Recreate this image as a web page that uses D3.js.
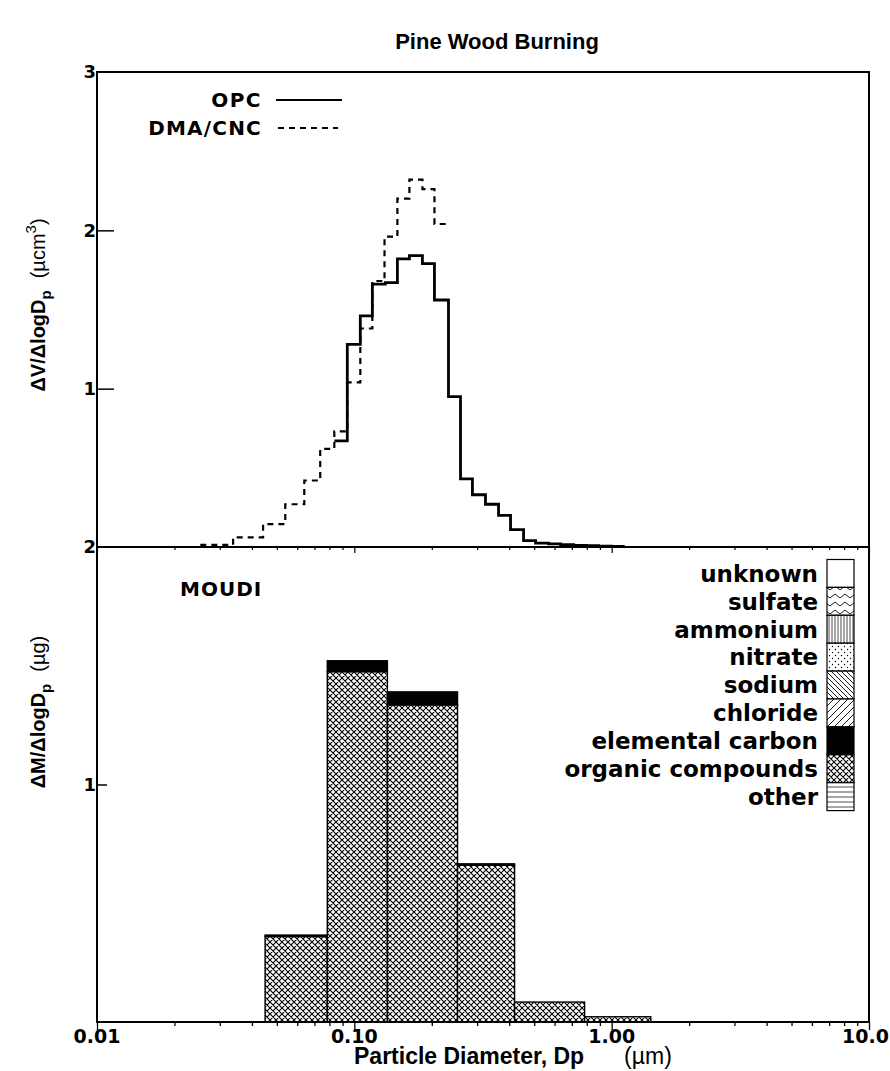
<!DOCTYPE html>
<html>
<head>
<meta charset="utf-8">
<script src="https://cdn.jsdelivr.net/npm/d3@7"></script>
<style>
  body { margin: 0; background: #fff; }
  svg text { font-family: "Liberation Sans", Arial, sans-serif; font-weight: bold; fill: #000; }
  svg text.wide { font-family: "DejaVu Sans", sans-serif; }
</style>
</head>
<body>
<svg id="chart"></svg>
<script>
/* DATA */
// OPC volume distribution, bin edges (µm) and values (µm3)
const opcEdges = [0.0836, 0.0939, 0.1055, 0.1175, 0.132, 0.147, 0.1637, 0.1839, 0.2048, 0.2322,
  0.2586, 0.2877, 0.3233, 0.3634, 0.4046, 0.4546, 0.5062, 0.5687, 0.6333, 0.7115, 0.7991, 0.8901, 1.0, 1.1236];
const opcValues = [0.67, 1.28, 1.46, 1.66, 1.67, 1.82, 1.84, 1.79, 1.56, 0.95,
  0.43, 0.33, 0.27, 0.20, 0.11, 0.04, 0.025, 0.02, 0.015, 0.01, 0.008, 0.006, 0.004];

// DMA/CNC volume distribution
const dmaEdges = [0.0252, 0.0338, 0.0442, 0.0539, 0.0639, 0.0737, 0.0836, 0.0939, 0.1055, 0.1175,
  0.131, 0.147, 0.1637, 0.1839, 0.2048, 0.2322];
const dmaValues = [0.013, 0.061, 0.145, 0.27, 0.42, 0.62, 0.73, 1.04, 1.38, 1.68, 1.96, 2.20, 2.32, 2.26, 2.04];

// MOUDI stages, edges (µm) and mass by component (µg)
const moudiEdges = [0.045, 0.0785, 0.1344, 0.2518, 0.4195, 0.785, 1.419];
const organic = [0.36, 1.475, 1.335, 0.66, 0.084, 0.022];
const elemental = [0.006, 0.046, 0.055, 0.006, 0, 0];

const legendLabels = ["unknown", "sulfate", "ammonium", "nitrate", "sodium", "chloride",
  "elemental carbon", "organic compounds", "other"];
const xTickValues = [0.01, 0.1, 1, 10];
const xTickLabels = ["0.01", "0.10", "1.00", "10.0"];

/* LAYOUT */
const width = 890, height = 1071;
const plotLeft = 97, plotRight = 869, plotTop = 72, plotMid = 547, plotBottom = 1022;

const svg = d3.select("#chart").attr("width", width).attr("height", height);

/* PATTERNS */
const defs = svg.append("defs");
function pat(id, w, h, draw) {
  const p = defs.append("pattern").attr("id", id).attr("patternUnits", "userSpaceOnUse")
    .attr("width", w).attr("height", h);
  p.append("rect").attr("width", w).attr("height", h).attr("fill", "#fff");
  draw(p);
}
pat("cross", 6, 6, p => {
  p.append("path").attr("d", "M0,0L6,6M6,0L0,6M-1,5L1,7M5,-1L7,1M-1,1L1,-1M5,7L7,5")
    .attr("stroke", "#000").attr("stroke-width", 1.1);
});
pat("zigzag", 10, 8, p => {
  p.append("path").attr("d", "M0,6L5,2L10,6").attr("fill", "none").attr("stroke", "#000").attr("stroke-width", 0.9);
});
pat("vert", 3, 4, p => {
  p.append("path").attr("d", "M1,0V4").attr("stroke", "#000").attr("stroke-width", 0.7);
});
pat("dots", 6, 6, p => {
  p.append("circle").attr("cx", 1.5).attr("cy", 1.5).attr("r", 0.7).attr("fill", "#000");
  p.append("circle").attr("cx", 4.5).attr("cy", 4.5).attr("r", 0.7).attr("fill", "#000");
});
pat("back", 5, 5, p => {
  p.append("path").attr("d", "M0,0L5,5M-1,4L1,6M4,-1L6,1").attr("stroke", "#000").attr("stroke-width", 0.9);
});
pat("fwd", 7, 7, p => {
  p.append("path").attr("d", "M0,7L7,0M-1,1L1,-1M6,8L8,6").attr("stroke", "#000").attr("stroke-width", 0.9);
});
pat("horiz", 4, 5, p => {
  p.append("path").attr("d", "M0,2H4").attr("stroke", "#000").attr("stroke-width", 0.7);
});
const legendFills = ["#fff", "url(#zigzag)", "url(#vert)", "url(#dots)", "url(#back)",
  "url(#fwd)", "#000", "url(#cross)", "url(#horiz)"];

/* SCALES */
const x = d3.scaleLog().domain([0.01, 10]).range([plotLeft, plotRight]);
const yTop = d3.scaleLinear().domain([0, 3]).range([plotMid, plotTop]);
const yBot = d3.scaleLinear().domain([0, 2]).range([plotBottom, plotMid]);

/* TITLE */
svg.append("text").attr("x", 497).attr("y", 49).attr("text-anchor", "middle")
  .style("font-size", "22px").text("Pine Wood Burning");

/* BOTTOM PANEL BARS */
const bars = svg.append("g");
organic.forEach((v, i) => {
  const x0 = x(moudiEdges[i]), x1 = x(moudiEdges[i + 1]);
  bars.append("rect").attr("x", x0).attr("width", x1 - x0)
    .attr("y", yBot(v)).attr("height", yBot(0) - yBot(v))
    .attr("fill", "url(#cross)").attr("stroke", "#000").attr("stroke-width", 1.4);
  if (elemental[i] > 0) {
    bars.append("rect").attr("x", x0).attr("width", x1 - x0)
      .attr("y", yBot(v + elemental[i])).attr("height", yBot(v) - yBot(v + elemental[i]))
      .attr("fill", "#000").attr("stroke", "#000").attr("stroke-width", 1.4);
  }
});

/* TOP PANEL STEP LINES */
const stepLine = d3.line().x(d => x(d[0])).y(d => yTop(d[1])).curve(d3.curveStepAfter);
function stepPoints(edges, vals) {
  const pts = vals.map((v, i) => [edges[i], v]);
  pts.push([edges[edges.length - 1], vals[vals.length - 1]]);
  return pts;
}
svg.append("path").attr("d", stepLine(stepPoints(dmaEdges, dmaValues)))
  .attr("fill", "none").attr("stroke", "#000").attr("stroke-width", 2.2).attr("stroke-dasharray", "6,5");
svg.append("path").attr("d", stepLine(stepPoints(opcEdges, opcValues)))
  .attr("fill", "none").attr("stroke", "#000").attr("stroke-width", 2.8);

/* AXES */
const minorTicks = [];
[0.01, 0.1, 1].forEach(d => { for (let k = 1; k <= 9; k++) minorTicks.push(d * k); });
minorTicks.push(10);

// bottom x axis
const xAxis = d3.axisBottom(x).tickValues(minorTicks).tickSize(4).tickFormat("");
const gx = svg.append("g").attr("transform", `translate(0,${plotBottom})`).call(xAxis);
gx.select(".domain").remove();
gx.selectAll("line").attr("stroke-width", 1.3);
gx.selectAll(".tick").filter(d => xTickValues.includes(d)).select("line").attr("y2", 8);
xTickValues.forEach((d, i) => {
  const last = i === xTickValues.length - 1;
  svg.append("text").attr("class", "wide").attr("x", last ? 889 : x(d)).attr("y", plotBottom + 21)
    .attr("text-anchor", last ? "end" : "middle").style("font-size", "19px").text(xTickLabels[i]);
});

// ticks along the middle line
const gm = svg.append("g").attr("transform", `translate(0,${plotMid})`)
  .call(d3.axisBottom(x).tickValues(minorTicks).tickSize(3).tickFormat(""));
gm.select(".domain").remove();
gm.selectAll("line").attr("stroke-width", 1.2);
gm.selectAll(".tick").filter(d => xTickValues.includes(d)).select("line").attr("y2", 6);

// y axes (ticks inside)
const gyTop = svg.append("g").attr("transform", `translate(${plotLeft},0)`)
  .call(d3.axisRight(yTop).tickValues([1, 2]).tickSize(17).tickFormat(""));
gyTop.select(".domain").remove();
gyTop.selectAll("line").attr("stroke-width", 1.5);
const gyBot = svg.append("g").attr("transform", `translate(${plotLeft},0)`)
  .call(d3.axisRight(yBot).tickValues([1]).tickSize(10).tickFormat(""));
gyBot.select(".domain").remove();
gyBot.selectAll("line").attr("stroke-width", 1.5);

[[yTop(3), "3"], [yTop(2), "2"], [yTop(1), "1"], [yBot(2), "2"], [yBot(1), "1"]].forEach(([yy, t]) => {
  svg.append("text").attr("class", "wide").attr("x", plotLeft - 1).attr("y", yy).attr("dy", "0.36em")
    .attr("text-anchor", "end").style("font-size", "18px").text(t);
});

// frame
svg.append("rect").attr("x", plotLeft).attr("y", plotTop)
  .attr("width", plotRight - plotLeft).attr("height", plotBottom - plotTop)
  .attr("fill", "none").attr("stroke", "#000").attr("stroke-width", 2);
svg.append("line").attr("x1", plotLeft).attr("x2", plotRight).attr("y1", plotMid).attr("y2", plotMid)
  .attr("stroke", "#000").attr("stroke-width", 2);

/* AXIS TITLES */
const xt = svg.append("text").attr("x", 354).attr("y", 1064).style("font-size", "23px");
xt.append("tspan").text("Particle Diameter, Dp");
xt.append("tspan").attr("dx", 40).style("font-weight", "normal").style("font-size", "23px").text("(µm)");

const yt1 = svg.append("text").attr("transform", "translate(45,305) rotate(-90)")
  .attr("text-anchor", "middle").style("font-size", "20px");
yt1.append("tspan").text("ΔV/ΔlogD");
yt1.append("tspan").attr("dy", 6).style("font-size", "15px").text("p");
yt1.append("tspan").attr("dy", -6).attr("dx", 12).style("font-weight", "normal").text("(µcm");
yt1.append("tspan").attr("dy", -9).style("font-size", "15px").style("font-weight", "normal").text("3");
yt1.append("tspan").attr("dy", 9).style("font-weight", "normal").text(")");

const yt2 = svg.append("text").attr("transform", "translate(45,712) rotate(-90)")
  .attr("text-anchor", "middle").style("font-size", "20px");
yt2.append("tspan").text("ΔM/ΔlogD");
yt2.append("tspan").attr("dy", 6).style("font-size", "15px").text("p");
yt2.append("tspan").attr("dy", -6).attr("dx", 12).style("font-weight", "normal").text("(µg)");

/* TOP LEGEND */
svg.append("text").attr("class", "wide").attr("x", 262).attr("y", 107).attr("text-anchor", "end")
  .style("font-size", "20px").style("letter-spacing", "1.5px").text("OPC");
svg.append("line").attr("x1", 276).attr("x2", 342).attr("y1", 100).attr("y2", 100)
  .attr("stroke", "#000").attr("stroke-width", 1.8);
svg.append("text").attr("class", "wide").attr("x", 262).attr("y", 135).attr("text-anchor", "end")
  .style("font-size", "20px").style("letter-spacing", "1.2px").text("DMA/CNC");
svg.append("line").attr("x1", 278).attr("x2", 338).attr("y1", 128).attr("y2", 128)
  .attr("stroke", "#000").attr("stroke-width", 1.8).attr("stroke-dasharray", "6,5");

/* BOTTOM LEGEND */
svg.append("text").attr("class", "wide").attr("x", 180).attr("y", 596)
  .style("font-size", "20px").style("letter-spacing", "1px").text("MOUDI");
const boxTop = 559.5, boxH = 27.9;
legendLabels.forEach((lab, i) => {
  const yy = boxTop + i * boxH;
  svg.append("rect").attr("x", 827).attr("y", yy).attr("width", 27).attr("height", boxH)
    .attr("fill", legendFills[i]).attr("stroke", "#000").attr("stroke-width", 1.2);
  svg.append("text").attr("class", "wide").attr("x", 818).attr("y", yy + boxH / 2).attr("dy", "0.36em")
    .attr("text-anchor", "end").style("font-size", "23px").text(lab);
});
</script>
</body>
</html>
